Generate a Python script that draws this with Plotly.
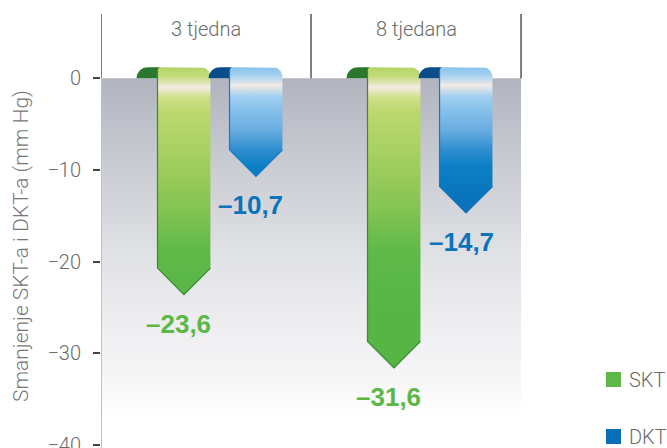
import numpy as np
import plotly.graph_objects as go

# ---- data ----
periods = ["3 tjedna", "8 tjedana"]
series_names = ["SKT", "DKT"]
skt_change = [-23.6, -31.6]
dkt_change = [-10.7, -14.7]
y_tick_vals = [0, -10, -20, -30, -40]
y_tick_text = ["0", "\u221210", "\u221220", "\u221230", "\u221240"]
y_title = "Smanjenje SKT-a i DKT-a (mm Hg)"

# ---- styling / geometry ----
W, H = 667, 448
M_L, M_T = 101, 14
PLOT_W, PLOT_H = W - M_L, H - M_T
Y_MIN, Y_MAX = -40.33, 7.0
X_MAX = 2.695
OFFSET = {"SKT": 0.395, "DKT": 0.738}   # position of each ribbon inside its period
HALF = 0.126          # half width of a ribbon
CAP = 1.2             # height of the fold above zero
CURL = 0.10           # how far the fold hangs back to the left
ARROW = 2.89          # height of the arrow head
RX, RY = 0.048, 1.05  # rounded front corner (right)
LRX, LRY = 0.016, 0.4 # rounded front corner (left, where the fold turns)

TXT = "#6b6b6b"
FONT = "Roboto, Liberation Sans, Arial, sans-serif"

STYLE = {
    "SKT": dict(
        label="#5bb846", legend="#5cb947", back="#2b772d", edge="#3a8a33",
        grad_start=-26.0,
        stops=[(1.2, "#b2d466"), (0.2, "#c3dc7a"), (-1.0, "#f4ece2"), (-2.1, "#cfe08a"),
               (-3.5, "#bdd86e"), (-8.0, "#a8d062"), (-14.0, "#86c453"),
               (-19.0, "#5eb948"), (-26.0, "#56b545")],
    ),
    "DKT": dict(
        label="#0a73bb", legend="#0a6fb9", back="#0a4d88", edge="#1478c4",
        grad_start=-16.0,
        stops=[(1.2, "#86c3ec"), (0.2, "#acd4f0"), (-0.8, "#f1ebe6"), (-2.0, "#a2cff0"),
               (-3.5, "#86c1ea"), (-5.7, "#68ade0"), (-7.8, "#2f8dcf"),
               (-9.5, "#0c80c5"), (-12.0, "#0a77bf"), (-16.0, "#0a6cb3")],
    ),
}

BG_STOPS = [(0.0, "#b1b4be"), (-5.0, "#bec1c9"), (-10.0, "#cbcdd4"), (-15.0, "#d7d8dd"),
            (-20.0, "#e2e3e7"), (-25.0, "#ebebee"), (-30.0, "#f2f2f4"), (-34.0, "#f8f8f8"),
            (-37.0, "#ffffff"), (Y_MIN, "#ffffff")]

# legend key placement (pixels from the top-left of the figure)
KEY_X0, KEY_SIZE = 606, 15
KEY_Y0 = [372, 429]
KEY_TEXT_X = 627


def px_x(p):
    return (p - M_L) / PLOT_W


def px_y(p):
    return (H - p) / PLOT_H


def colorscale(stops, start, stop):
    span = stop - start
    scale = [((y - start) / span, c) for y, c in stops]
    scale.sort(key=lambda p: p[0])
    scale = [(min(max(p, 0.0), 1.0), c) for p, c in scale]
    return scale


def ribbon_front(c, v):
    x0, x1 = c - HALF, c + HALF
    shoulder = v + ARROW
    t = np.linspace(0, np.pi / 2, 14)
    # left corner: from the side up onto the top edge
    lx = (x0 + LRX) - LRX * np.cos(t)
    ly = (CAP - LRY) + LRY * np.sin(t)
    # right corner: from the top edge down onto the side
    rx = (x1 - RX) + RX * np.sin(t)
    ry = (CAP - RY) + RY * np.cos(t)
    xs = [c, x0] + list(lx) + list(rx) + [x1, c]
    ys = [v, shoulder] + list(ly) + list(ry) + [shoulder, v]
    return xs, ys


def ribbon_back(c):
    x0 = c - HALF
    rx = CURL * 0.55
    cx = x0 - CURL + rx
    t = np.linspace(np.pi, np.pi / 2, 20)
    xs = list(cx + rx * np.cos(t)) + [x0 + 0.01, x0 + 0.01]
    ys = list(CAP * np.sin(t)) + [CAP, 0.0]
    return xs, ys


fig = go.Figure()

# grey backdrop below zero
bg_scale = colorscale(BG_STOPS, Y_MIN, 0.0)
fig.add_trace(go.Scatter(
    x=[0, 2, 2, 0, 0], y=[0, 0, Y_MIN, Y_MIN, 0],
    mode="lines", line=dict(width=0), fill="toself",
    fillgradient=dict(type="vertical", colorscale=bg_scale, start=Y_MIN, stop=0.0),
    hoverinfo="skip", showlegend=False,
))

series_values = {"SKT": skt_change, "DKT": dkt_change}
annotations = []
shapes = []

for name in series_names:
    st = STYLE[name]
    scale = colorscale(st["stops"], st["grad_start"], CAP)
    for i, v in enumerate(series_values[name]):
        c = i + OFFSET[name]
        bx, by = ribbon_back(c)
        fig.add_trace(go.Scatter(
            x=bx, y=by, mode="lines", line=dict(width=0), fill="toself",
            fillcolor=st["back"], hoverinfo="skip", showlegend=False,
        ))
        fx, fy = ribbon_front(c, v)
        fig.add_trace(go.Scatter(
            x=fx, y=fy, mode="lines", line=dict(width=0), fill="toself",
            fillgradient=dict(type="vertical", colorscale=scale,
                              start=st["grad_start"], stop=CAP),
            hoverinfo="skip", showlegend=False,
        ))
        # darker outline along the left side and the arrow head
        fig.add_trace(go.Scatter(
            x=[c - HALF, c - HALF, c, c + HALF],
            y=[CAP - LRY, v + ARROW, v, v + ARROW],
            mode="lines", line=dict(color=st["edge"], width=1.2),
            hoverinfo="skip", showlegend=False,
        ))
        label = "\u2013" + f"{abs(v):.1f}".replace(".", ",")
        annotations.append(dict(
            x=c, y=v, xref="x", yref="y", text=label, showarrow=False,
            xshift=-5, yshift=-29, yanchor="middle",
            font=dict(family="Liberation Sans, Arial, sans-serif", size=26,
                      color=st["label"], weight="bold"),
        ))

# legend: colour keys with series names
for k, name in enumerate(series_names):
    y0 = KEY_Y0[k]
    shapes.append(dict(
        type="rect", xref="paper", yref="paper",
        x0=px_x(KEY_X0), x1=px_x(KEY_X0 + KEY_SIZE),
        y0=px_y(y0 + KEY_SIZE), y1=px_y(y0),
        fillcolor=STYLE[name]["legend"], line=dict(width=0),
    ))
    annotations.append(dict(
        x=px_x(KEY_TEXT_X), y=px_y(y0 + KEY_SIZE / 2), xref="paper", yref="paper",
        text=name, showarrow=False, xanchor="left", yanchor="middle",
        font=dict(family=FONT, size=20, color=TXT, weight=300),
    ))

# period headings
for i, p in enumerate(periods):
    annotations.append(dict(
        x=i + 0.5, y=5.35, xref="x", yref="y", text=p, showarrow=False,
        font=dict(family=FONT, size=20, color=TXT, weight=300),
    ))

annotations.append(dict(
    x=px_x(21), y=px_y(246), xref="paper", yref="paper", text=y_title,
    textangle=-90, showarrow=False, xanchor="center", yanchor="middle",
    font=dict(family=FONT, size=21, color="#777777", weight=300),
))

for i in range(len(periods) + 1):
    shapes.append(dict(type="line", xref="x", yref="y", x0=i, x1=i, y0=0, y1=Y_MAX,
                       line=dict(color="#555555", width=1.5), layer="above"))
shapes.append(dict(type="line", xref="x", yref="y", x0=0, x1=0, y0=Y_MIN, y1=0,
                   line=dict(color="#c2c2c2", width=2), layer="above"))

fig.update_layout(
    width=W, height=H,
    margin=dict(l=M_L, r=0, t=M_T, b=0, autoexpand=False),
    paper_bgcolor="white", plot_bgcolor="white",
    xaxis=dict(range=[0, X_MAX], visible=False, fixedrange=True),
    yaxis=dict(
        range=[Y_MIN, Y_MAX], tickvals=y_tick_vals, ticktext=y_tick_text,
        showgrid=False, zeroline=False, showline=False,
        ticks="outside", ticklen=7, tickwidth=1.5, tickcolor="#444444",
        tickfont=dict(family=FONT, size=20, color=TXT, weight=300),
        ticklabelstandoff=8, ticklabeloverflow="allow", fixedrange=True,
    ),
    showlegend=False,
    annotations=annotations,
    shapes=shapes,
)

fig.write_html("out.html")
